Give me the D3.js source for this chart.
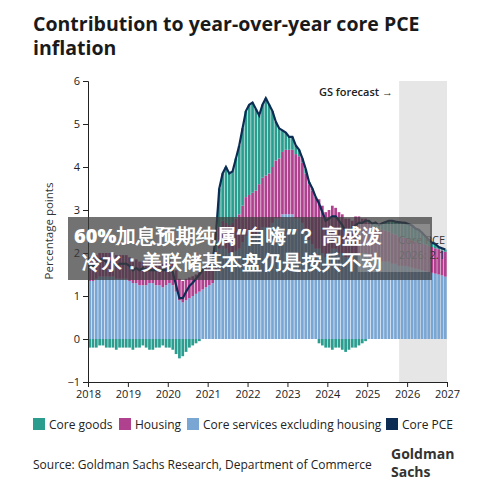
<!DOCTYPE html><html><head><meta charset="utf-8"><script src="https://cdn.jsdelivr.net/npm/d3@7"></script>
<style>body{margin:0;background:#fff}text{font-family:"Open Sans",sans-serif}</style></head><body><svg id="c" width="500" height="497"></svg>
<script>
const years=[2018,2019,2020,2021,2022,2023,2024,2025,2026,2027];
const yTicks=[-1,0,1,2,3,4,5,6];
const coreGoods=[-0.2,-0.2,-0.2,-0.15,-0.15,-0.2,-0.2,-0.2,-0.25,-0.2,-0.2,-0.2,
-0.2,-0.25,-0.2,-0.2,-0.15,-0.2,-0.25,-0.25,-0.2,-0.2,-0.15,-0.2,
-0.2,-0.25,-0.35,-0.45,-0.4,-0.3,-0.2,-0.15,-0.1,-0.05,0,0.05,
0.05,0.1,0.4,0.9,1.1,1.3,1.2,1.2,1.4,1.6,1.8,2.0,
2.1,2.1,1.9,1.6,1.7,1.8,1.6,1.3,0.9,0.7,0.5,0.4,
0.3,0.3,0.2,0.15,0.1,0.1,0.05,0.05,0,-0.1,-0.15,-0.2,
-0.2,-0.25,-0.2,-0.2,-0.25,-0.3,-0.25,-0.2,-0.2,-0.15,-0.1,-0.05,
0.05,0.05,0.1,0.1,0.15,0.2,0.25,0.3,0.3,0.35,0.35,0.35,
0.35,0.35,0.3,0.3,0.25,0.2,0.15,0.1,0.1,0.05,0.05,0.05];
const housing=[0.55,0.55,0.55,0.55,0.55,0.55,0.55,0.55,0.55,0.55,0.55,0.55,
0.55,0.55,0.55,0.55,0.55,0.55,0.55,0.55,0.55,0.55,0.55,0.55,
0.55,0.55,0.5,0.5,0.5,0.5,0.48,0.46,0.45,0.45,0.45,0.45,
0.4,0.4,0.45,0.5,0.55,0.6,0.65,0.7,0.75,0.8,0.85,0.9,
0.95,1.0,1.05,1.1,1.15,1.2,1.25,1.3,1.35,1.4,1.45,1.5,
1.5,1.5,1.5,1.45,1.4,1.35,1.3,1.25,1.2,1.15,1.1,1.05,
1.0,1.0,0.95,0.95,0.9,0.9,0.9,0.85,0.85,0.85,0.8,0.8,
0.8,0.78,0.76,0.75,0.74,0.72,0.7,0.7,0.68,0.67,0.66,0.65,
0.64,0.63,0.63,0.62,0.62,0.61,0.6,0.6,0.59,0.59,0.58,0.58];
const servicesExHousing=[1.35,1.35,1.4,1.45,1.45,1.45,1.45,1.45,1.4,1.4,1.4,1.4,
1.35,1.3,1.3,1.25,1.25,1.25,1.3,1.3,1.25,1.25,1.2,1.25,
1.3,1.25,1.1,0.9,0.85,0.9,0.95,1.0,1.05,1.1,1.15,1.2,
1.25,1.3,1.6,2.1,2.2,2.1,2.0,2.0,2.05,2.1,2.25,2.4,
2.4,2.4,2.4,2.5,2.6,2.6,2.6,2.7,2.8,2.8,2.9,2.9,
2.9,2.9,2.8,2.8,2.7,2.5,2.3,2.2,2.1,2.1,2.0,1.9,
2.0,2.1,2.1,2.0,2.0,1.9,1.9,1.9,2.0,2.0,2.0,2.0,
1.9,1.85,1.85,1.8,1.8,1.8,1.8,1.75,1.75,1.7,1.7,1.7,
1.68,1.66,1.64,1.62,1.6,1.58,1.56,1.54,1.52,1.5,1.48,1.45];
const corePCE=coreGoods.map((g,i)=>+(g+housing[i]+servicesExHousing[i]).toFixed(2));

const svg=d3.select("#c");
const L=88,R=447,T=81,B=382;
const x=d3.scaleLinear().domain([2018,2027]).range([L,R]);
const y=d3.scaleLinear().domain([-1,6]).range([B,T]);
const mx=i=>2018+i/12;
const bw=x(2018+1/12)-x(2018);
svg.append("rect").attr("x",x(2025.8)).attr("y",T).attr("width",x(2027)-x(2025.8)).attr("height",B-T).attr("fill","#e6e6e6");
const C={g:"#2a9d8f",h:"#b0418f",s:"#7aa6d4",l:"#0d2c54"};
const g=svg.append("g");
coreGoods.forEach((v,i)=>{
 const x0=x(mx(i))+0.3,w=bw-0.6,s=servicesExHousing[i],h=housing[i];
 g.append("rect").attr("x",x0).attr("width",w).attr("y",y(s)).attr("height",y(0)-y(s)).attr("fill",C.s);
 g.append("rect").attr("x",x0).attr("width",w).attr("y",y(s+h)).attr("height",y(s)-y(s+h)).attr("fill",C.h);
 if(v>=0) g.append("rect").attr("x",x0).attr("width",w).attr("y",y(s+h+v)).attr("height",y(s+h)-y(s+h+v)).attr("fill",C.g);
 else g.append("rect").attr("x",x0).attr("width",w).attr("y",y(0)).attr("height",y(v)-y(0)).attr("fill",C.g);
});
svg.append("path").datum(corePCE).attr("fill","none").attr("stroke",C.l).attr("stroke-width",2.2)
 .attr("d",d3.line().x((d,i)=>x(mx(i)+0.5/12)).y(d=>y(d)));
const ya=svg.append("g").attr("transform",`translate(${L},0)`).call(d3.axisLeft(y).tickValues(yTicks).tickSize(5).tickFormat(d3.format("d")));
const xa=svg.append("g").attr("transform",`translate(0,${B})`).call(d3.axisBottom(x).tickValues(years).tickSize(5).tickFormat(d3.format("d")));
[ya,xa].forEach(a=>{a.selectAll("text").attr("font-size",11).attr("fill","#222");a.selectAll("path,line").attr("stroke","#222")});
svg.append("text").attr("transform","translate(53,231) rotate(-90)").attr("text-anchor","middle").attr("font-size",11.5).attr("fill","#333").text("Percentage points");
svg.append("text").attr("x",393).attr("y",96).attr("text-anchor","end").attr("font-size",11).attr("font-weight",600).attr("fill","#222").text("GS forecast →");
svg.append("text").attr("x",445).attr("y",244).attr("text-anchor","end").attr("font-size",11).attr("fill","#333").text("Core PCE");
svg.append("text").attr("x",445).attr("y",259).attr("text-anchor","end").attr("font-size",11).attr("fill","#333").text("2026: 2.1");
svg.append("text").attr("x",33).attr("y",31).attr("font-size",19.5).attr("font-weight",700).attr("fill","#1a1a1a").text("Contribution to year-over-year core PCE");
svg.append("text").attr("x",33).attr("y",55).attr("font-size",19.5).attr("font-weight",700).attr("fill","#1a1a1a").text("inflation");
const leg=[["Core goods",C.g,33],["Housing",C.h,119],["Core services excluding housing",C.s,187],["Core PCE",C.l,386]];
leg.forEach(([t,c,lx])=>{svg.append("rect").attr("x",lx).attr("y",418).attr("width",12).attr("height",12).attr("fill",c);
 svg.append("text").attr("x",lx+16).attr("y",429).attr("font-size",12).attr("fill","#222").text(t);});
svg.append("text").attr("x",33).attr("y",469).attr("font-size",12).attr("fill","#222").text("Source: Goldman Sachs Research, Department of Commerce");
svg.append("text").attr("x",391).attr("y",459).attr("font-family","DejaVu Serif,serif").attr("font-size",14).attr("font-weight",700).attr("fill","#333").text("Goldman");
svg.append("text").attr("x",391).attr("y",477).attr("font-family","DejaVu Serif,serif").attr("font-size",14).attr("font-weight",700).attr("fill","#333").text("Sachs");
svg.append("rect").attr("x",68).attr("y",217).attr("width",364).attr("height",63).attr("fill","rgba(60,60,60,0.72)");
svg.append("rect").attr("x",358).attr("y",224).attr("width",72).attr("height",48).attr("fill","rgba(200,200,200,0.35)");
svg.append("text").attr("x",74).attr("y",243).attr("font-family","Noto Sans CJK SC").attr("font-size",20).attr("font-weight",900).attr("fill","#fff").text("60%加息预期纯属“自嗨”？ 高盛泼");
svg.append("text").attr("x",82).attr("y",269).attr("font-family","Noto Sans CJK SC").attr("font-size",20).attr("font-weight",900).attr("fill","#fff").text("冷水：美联储基本盘仍是按兵不动");
</script></body></html>
